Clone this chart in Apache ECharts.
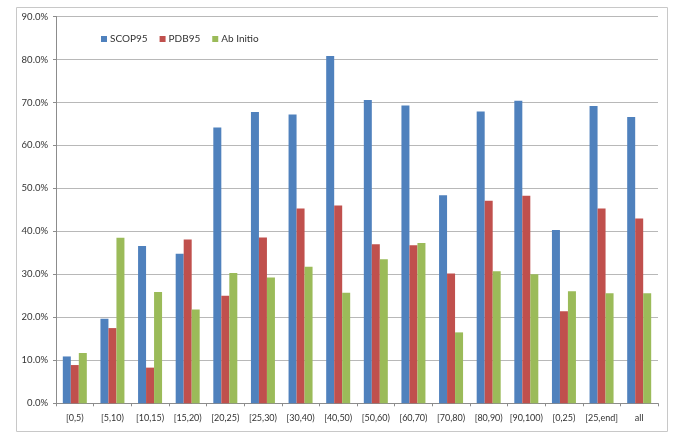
<!DOCTYPE html>
<html>
<head>
<meta charset="utf-8">
<script src="https://cdn.jsdelivr.net/npm/echarts@6/dist/echarts.min.js"></script>
<style>
html,body{margin:0;padding:0;background:#fff;}
#chart{width:685px;height:444px;}
</style>
</head>
<body>
<div id="chart"></div>
<script>
const categories = ['[0,5)','[5,10)','[10,15)','[15,20)','[20,25)','[25,30)','[30,40)','[40,50)','[50,60)','[60,70)','[70,80)','[80,90)','[90,100)','[0,25)','[25,end]','all'];
const scop95 = [10.9,19.7,36.6,34.8,64.2,67.8,67.2,80.8,70.6,69.3,48.4,67.9,70.4,40.3,69.2,66.6];
const pdb95 = [8.9,17.5,8.3,38.1,25.0,38.6,45.3,46.0,37.0,36.8,30.2,47.1,48.3,21.4,45.3,43.0];
const abInitio = [11.7,38.5,25.9,21.8,30.3,29.3,31.8,25.7,33.5,37.3,16.5,30.7,30.0,26.1,25.6,25.6];

const font = 'Lato, "Open Sans", sans-serif';
const chart = echarts.init(document.getElementById('chart'), null, {renderer:'canvas'});
const mk = (name, data, color) => ({
  name, type:'bar', data, barWidth:8, barGap:'0%',
  itemStyle:{color}, emphasis:{disabled:true}
});
chart.setOption({
  animation:false,
  textStyle:{fontFamily:font},
  graphic:[{type:'rect', shape:{x:16.5,y:7.5,width:651,height:424}, style:{fill:'none', stroke:'#c8c8c8', lineWidth:1}, silent:true}],
  legend:{
    left:96, top:29, itemWidth:6, itemHeight:6, itemGap:12, icon:'rect',
    textStyle:{fontSize:10, color:'#333', fontFamily:font, padding:[0,0,0,-2]},
    data:['SCOP95','PDB95','Ab Initio']
  },
  grid:{left:56, top:16.5, right:27, bottom:40.7, containLabel:false},
  xAxis:{
    type:'category', data:categories,
    axisLine:{lineStyle:{color:'#8c8c8c'}},
    axisTick:{show:true, length:3, interval:0, lineStyle:{color:'#8c8c8c'}},
    axisLabel:{fontSize:9, interval:0, color:'#333', margin:10, fontFamily:font}
  },
  yAxis:{
    type:'value', min:0, max:90, interval:10,
    axisLine:{show:true, lineStyle:{color:'#8c8c8c'}},
    axisTick:{show:true, length:3, lineStyle:{color:'#8c8c8c'}},
    splitLine:{lineStyle:{color:'#b8b8b8'}},
    axisLabel:{fontSize:9.5, color:'#333', margin:8, fontFamily:font, formatter:v=>v.toFixed(1)+'%'}
  },
  series:[mk('SCOP95',scop95,'#4F81BD'), mk('PDB95',pdb95,'#C0504D'), mk('Ab Initio',abInitio,'#9BBB59')]
});
</script>
</body>
</html>
